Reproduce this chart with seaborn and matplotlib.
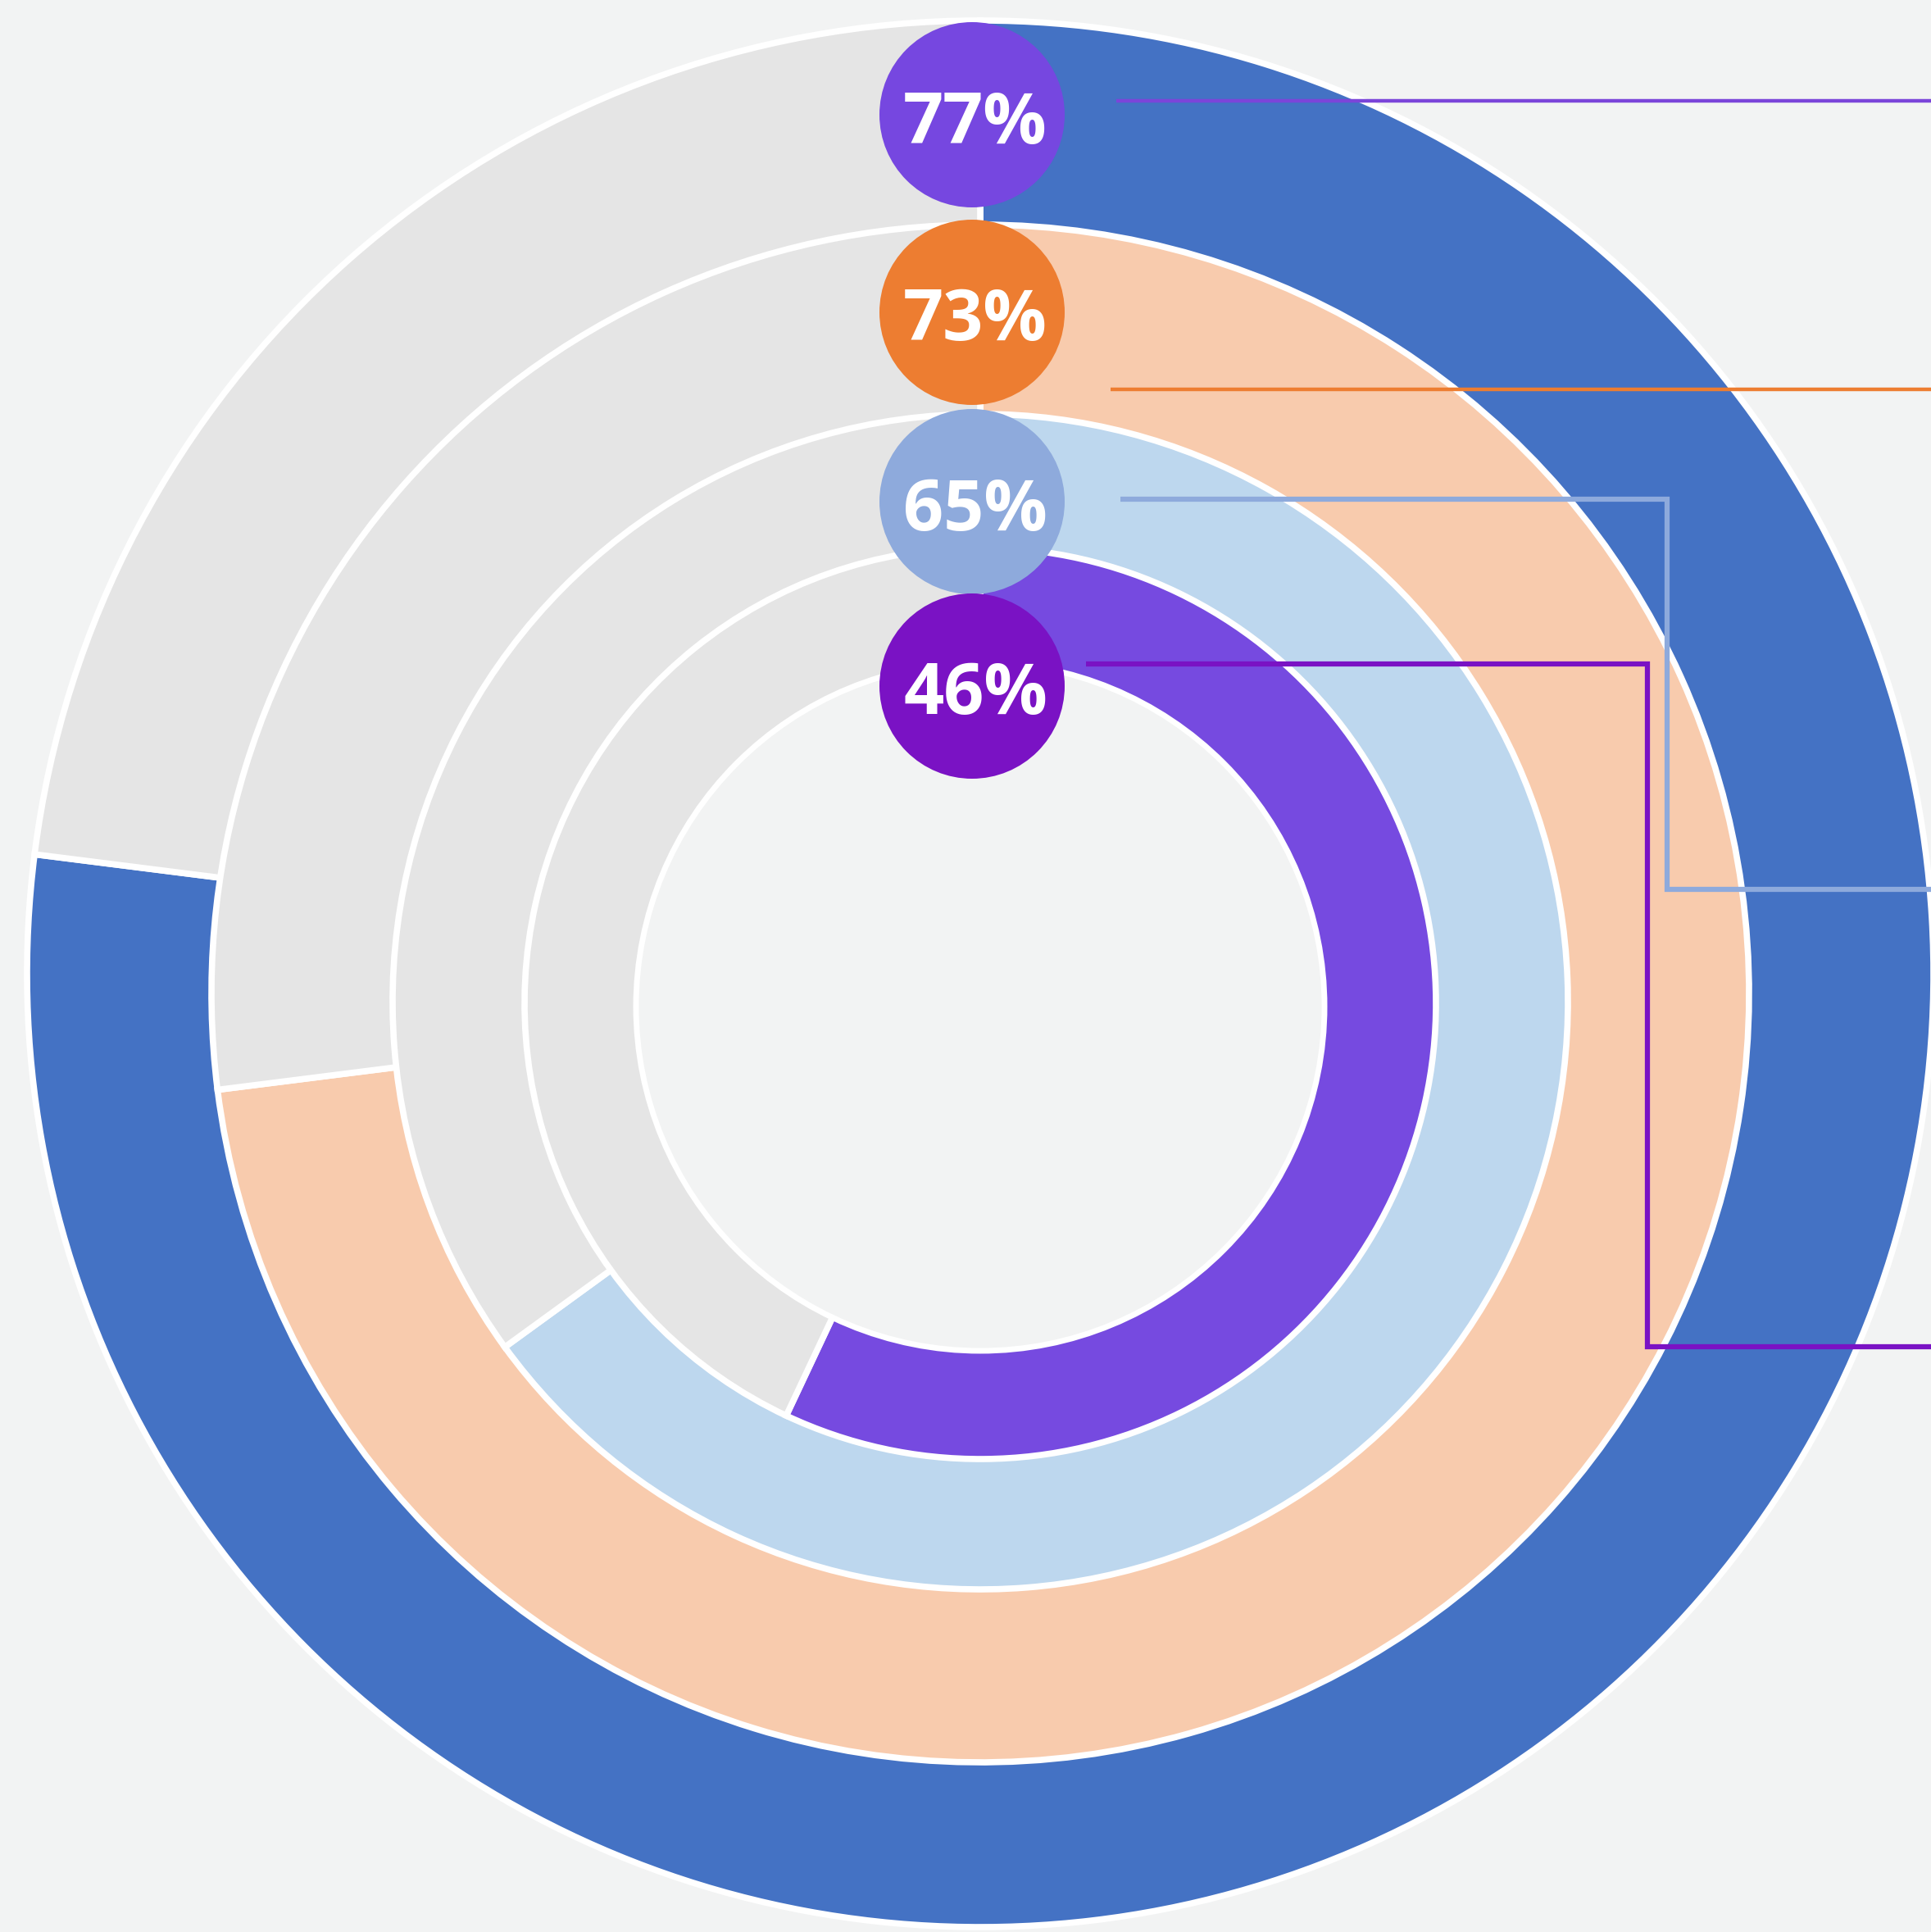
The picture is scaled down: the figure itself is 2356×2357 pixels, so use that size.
import matplotlib
matplotlib.use("Agg")
import matplotlib.pyplot as plt
from matplotlib.patches import Circle
import seaborn as sns

sns.set_theme(style="white")
plt.rcParams['font.family'] = ['Open Sans', 'DejaVu Sans']

# Data (outer ring first)
labels = ["77%", "73%", "65%", "46%"]
# share of each ring that is filled, as drawn in the picture
# (the innermost arc runs further round than its 46% label)
arc_values = [77, 73, 65, 57]

ring_colors = ["#4472c4", "#f8cbad", "#bdd7ee", "#764ae0"]
badge_colors = ["#7647e0", "#ed7d31", "#8eaadc", "#7a12c4"]
line_colors = ["#7b45d9", "#ed7d31", "#8eaadc", "#7a12c4"]
track_color = "#e5e5e5"
bg = "#f2f3f3"

# Layout, in image pixels (y measured from the top)
W, H = 2356, 2357
CX = 1196
ring_r = [1163, 938, 717, 556]     # outer edge of each ring
ring_cy = [1188, 1212, 1222, 1224]
hole_r, hole_cy = 420, 1228

badge_x, badge_r = 1186, 113
badge_y = [140, 381, 612, 837]

line_x0 = [1362, 1355, 1367, 1325]
line_y0 = [123, 475, 609, 810]
line_elbow = [None, None, 2034, 2010]
line_y1 = [123, 475, 1085, 1643]
line_w = [3.2, 3.2, 4.5, 4.5]


fig = plt.figure(figsize=(W / 100, H / 100), dpi=100)
fig.patch.set_facecolor(bg)
ax = fig.add_axes([0, 0, 1, 1])
ax.set_facecolor(bg)

# each ring is a full pie laid over the one outside it
for v, col, r, cy in zip(arc_values, ring_colors, ring_r, ring_cy):
    ax.pie([v, 100 - v], colors=[col, track_color], radius=r,
           center=(CX, H - cy), startangle=90, counterclock=False, frame=True,
           wedgeprops=dict(edgecolor="white", linewidth=5.5))

ax.add_patch(Circle((CX, H - hole_cy), hole_r, facecolor=bg,
                    edgecolor="white", linewidth=5, zorder=2))

# leader lines
for i in range(len(labels)):
    xs = [line_x0[i]]
    ys = [line_y0[i]]
    if line_elbow[i] is not None:
        xs += [line_elbow[i], line_elbow[i]]
        ys += [line_y0[i], line_y1[i]]
    xs.append(W + 5)
    ys.append(line_y1[i])
    ax.plot(xs, [H - y for y in ys], color=line_colors[i], lw=line_w[i],
            solid_joinstyle="miter", solid_capstyle="butt", zorder=3)

# percentage badges
for lab, col, y in zip(labels, badge_colors, badge_y):
    ax.add_patch(Circle((badge_x, H - y), badge_r, facecolor=col,
                        edgecolor="none", zorder=4))
    ax.text(badge_x + 4, H - y - 12, lab, color="white", fontsize=62,
            fontweight="bold", ha="center", va="center", zorder=5)

ax.set_xlim(0, W)
ax.set_ylim(0, H)
ax.set_aspect("equal")
ax.axis("off")

fig.savefig("out.png", dpi=100, facecolor=bg)
